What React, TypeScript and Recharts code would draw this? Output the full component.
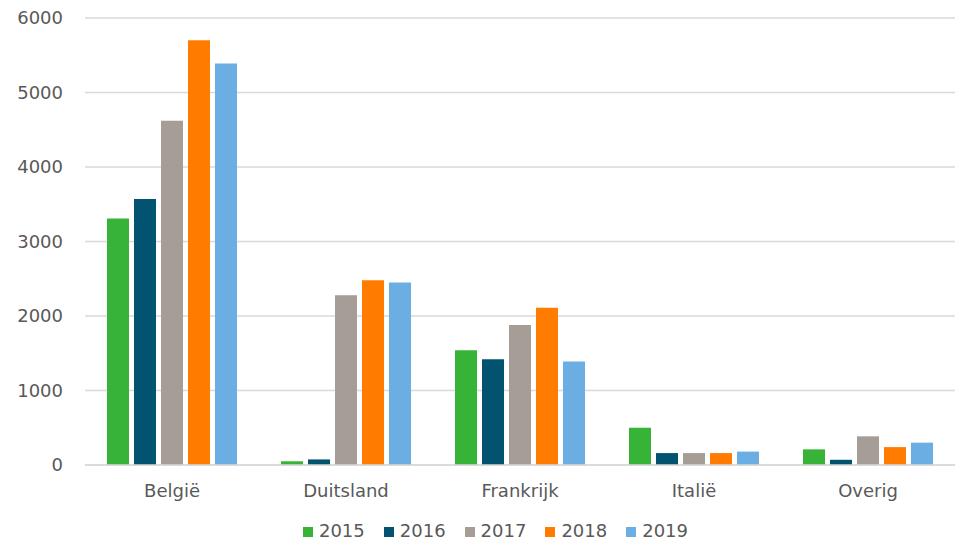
import { Bar, BarChart, CartesianGrid, Legend, XAxis, YAxis } from "recharts";

const countries = ["België", "Duitsland", "Frankrijk", "Italië", "Overig"];
const years = ["2015", "2016", "2017", "2018", "2019"];
const colors = ["#37b337", "#01536f", "#a59d96", "#ff7c00", "#6baee3"];

const values2015 = [3310, 50, 1540, 500, 210];
const values2016 = [3570, 75, 1420, 160, 70];
const values2017 = [4620, 2280, 1880, 160, 385];
const values2018 = [5700, 2480, 2110, 160, 240];
const values2019 = [5390, 2450, 1390, 180, 300];

const yTicks = [0, 1000, 2000, 3000, 4000, 5000, 6000];

const seriesValues = [values2015, values2016, values2017, values2018, values2019];

const data = countries.map((name, i) => {
    const row: Record<string, string | number> = { name };
    years.forEach((y, s) => {
        row[y] = seriesValues[s][i];
    });
    return row;
});

const font = "'DejaVu Sans', Verdana, sans-serif";

function LegendBox() {
    return (
        <div style={{ display: "flex", justifyContent: "center", paddingLeft: 36, fontFamily: font, fontSize: 18, color: "#595959" }}>
            {years.map((y, i) => (
                <div key={y} style={{ display: "flex", alignItems: "center", marginRight: i < years.length - 1 ? 19 : 0 }}>
                    <span style={{ display: "inline-block", width: 10, height: 10, background: colors[i], marginRight: 6, marginTop: 3 }} />
                    <span>{y}</span>
                </div>
            ))}
        </div>
    );
}

export default function App() {
    return (
        <div style={{ position: "absolute", left: 0, top: 0, background: "#fff" }}>
            <BarChart
                width={959}
                height={544}
                data={data}
                margin={{ top: 18, right: 4, left: 0, bottom: 0 }}
                barSize={22}
                barGap={5}
            >
                <CartesianGrid vertical={false} stroke="#d9d9d9" strokeWidth={1.5} />
                <XAxis
                    dataKey="name"
                    axisLine={{ stroke: "#d9d9d9", strokeWidth: 1.5 }}
                    tickLine={false}
                    tickSize={0}
                    tickMargin={19}
                    height={55}
                    tick={{ fill: "#595959", fontSize: 18, fontFamily: font }}
                />
                <YAxis
                    width={85}
                    domain={[0, 6000]}
                    ticks={yTicks}
                    interval={0}
                    axisLine={false}
                    tickLine={false}
                    tickSize={0}
                    tickMargin={22}
                    tick={{ fill: "#595959", fontSize: 18, fontFamily: font }}
                />
                <Legend verticalAlign="bottom" height={24} content={() => <LegendBox />} />
                {years.map((y, i) => (
                    <Bar key={y} dataKey={y} fill={colors[i]} isAnimationActive={false} />
                ))}
            </BarChart>
        </div>
    );
}
